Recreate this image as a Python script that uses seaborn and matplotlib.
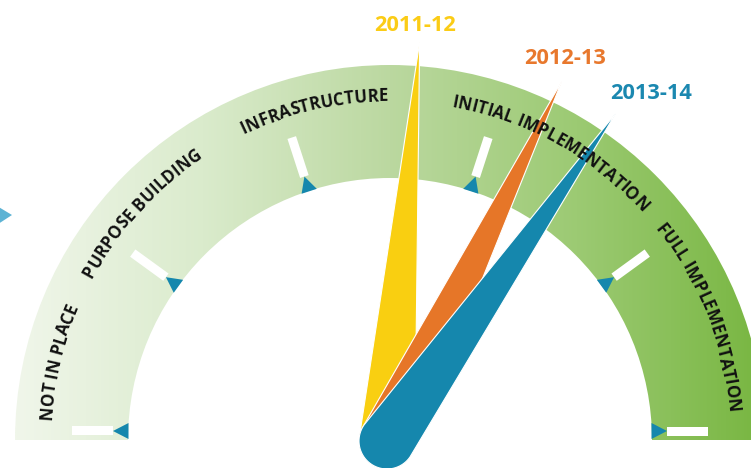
import numpy as np
import matplotlib
matplotlib.use("Agg")
import matplotlib.pyplot as plt
import seaborn as sns
from matplotlib.patches import Wedge, Polygon
from matplotlib.font_manager import FontProperties, findfont, get_font

# Readiness stages around the dial, from left to right
stages = ["NOT IN PLACE", "PURPOSE BUILDING", "INFRASTRUCTURE",
          "INITIAL IMPLEMENTATION", "FULL IMPLEMENTATION"]
stage_bounds = [0, 1, 2, 3, 4, 5]
# where each stage name is centred along the dial (stage units)
label_pos = [0.37, 1.18, 2.14, 3.31, 4.40]

# Assessed position of each year on the 0-5 stage scale
years = ["2011-12", "2012-13", "2013-14"]
scores = [2.63, 3.22, 3.47]
needle_colors = ["#F9CF11", "#E67628", "#1587AD"]
year_text_colors = ["#FBCC16", "#E8782D", "#1B88B0"]
# year label offsets from the needle tip (points)
year_offsets = [(-2.9, 7.9), (2.2, 12.2), (25.2, 10.1)]

band_colors = ["#F0F6EA", "#DAEBCC", "#BBD8A0", "#9CCA73", "#78B641"]

sns.set_theme(style="white")
plt.rcParams["font.family"] = ["Open Sans", "DejaVu Sans"]

PX = 375.0                      # pixels per data unit (outer radius = 1)
R_OUT, R_IN = 1.0, 262 / PX


def ang(v):
    """Stage value -> angle in radians (0 at left end, 5 at right end)."""
    return np.deg2rad(180.0 - 36.0 * v)


fig = plt.figure(figsize=(7.51, 4.68), dpi=100)
ax = fig.add_axes([0, 0, 1, 1])

# gradient band
cmap = sns.blend_palette(band_colors, as_cmap=True)
grad = np.linspace(0, 1, 600)[None, :]
im = ax.imshow(grad, cmap=cmap, extent=[-R_OUT, R_OUT, 0, R_OUT],
               aspect="auto", interpolation="bicubic", zorder=1)
band = Wedge((0, 0), R_OUT, 0, 180, width=R_OUT - R_IN,
             transform=ax.transData)
im.set_clip_path(band)

# stage boundary ticks: white bar with a blue arrowhead on the inner rim
for i, v in enumerate(stage_bounds):
    a = ang(v)
    u = np.array([np.cos(a), np.sin(a)])
    p = np.array([-np.sin(a), np.cos(a)])
    # the two end ticks sit just above the baseline of the dial
    lift = np.array([0, 9 / PX]) if i in (0, len(stage_bounds) - 1) else 0
    r0, r1, hw = 277 / PX, 318 / PX, 4.5 / PX
    ax.add_patch(Polygon([u * r0 + p * hw + lift, u * r1 + p * hw + lift,
                          u * r1 - p * hw + lift, u * r0 - p * hw + lift],
                         closed=True, fc="white", ec="none", zorder=2))
    tb = R_IN - 0.5 / PX
    ax.add_patch(Polygon([u * tb + p * 8 / PX + lift,
                          u * tb - p * 8 / PX + lift,
                          u * (R_IN + 15 / PX) + lift],
                         closed=True, fc="#1587AD", ec="none", zorder=2))

# needles, tapering from a rounded base
pivot = np.array([-3 / PX, -1 / PX])
L, HW = 400 / PX, 28 / PX
tips = []
for s, col in zip(scores, needle_colors):
    a = ang(s)
    u = np.array([np.cos(a), np.sin(a)])
    tip = pivot + u * L
    tips.append(tip)
    arc = np.linspace(a + np.pi / 2, a + 3 * np.pi / 2, 40)
    cap = np.column_stack([pivot[0] + HW * np.cos(arc),
                           pivot[1] + HW * np.sin(arc)])
    pts = np.vstack([tip[None, :], cap])
    ax.add_patch(Polygon(pts, closed=True, fc=col, ec="white", lw=0.8,
                         zorder=3))

# curved stage names
fp = FontProperties(family="Open Sans", weight="bold", size=12.2)
font = get_font(findfont(fp))
font.set_size(fp.get_size_in_points(), 72)
r_text = 339 / PX
for name, v in zip(stages, label_pos):
    adv = np.array([font.load_char(ord(c)).linearHoriAdvance / 65536
                    for c in name]) * (100 / 72) / PX
    total = adv.sum()
    a_mid = ang(v)
    a_start = a_mid + total / 2 / r_text
    cum = np.concatenate([[0], np.cumsum(adv)[:-1]]) + adv / 2
    for c, d in zip(name, cum):
        a = a_start - d / r_text
        ax.text(r_text * np.cos(a), r_text * np.sin(a), c,
                rotation=np.rad2deg(a) - 90, rotation_mode="anchor",
                ha="center", va="baseline", fontproperties=fp,
                color="#111111", zorder=4)

# year labels above the needle tips
for yr, tip, col, off in zip(years, tips, year_text_colors, year_offsets):
    ax.annotate(yr, xy=tip, xytext=off, textcoords="offset points",
                ha="center", va="baseline", fontsize=15.7,
                fontweight="bold", color=col, zorder=5)

# small pointer at the left margin
ax.add_patch(Polygon([(-8 / 751, 1 - 203 / 468), (-8 / 751, 1 - 228 / 468),
                      (12 / 751, 1 - 215 / 468)], closed=True,
                     transform=ax.transAxes, fc="#5DB3D4", ec="none",
                     zorder=2))

ax.set_xlim(-390 / PX, 361 / PX)
ax.set_ylim(-28 / PX, 440 / PX)
ax.axis("off")
fig.savefig("out.png", dpi=100)
